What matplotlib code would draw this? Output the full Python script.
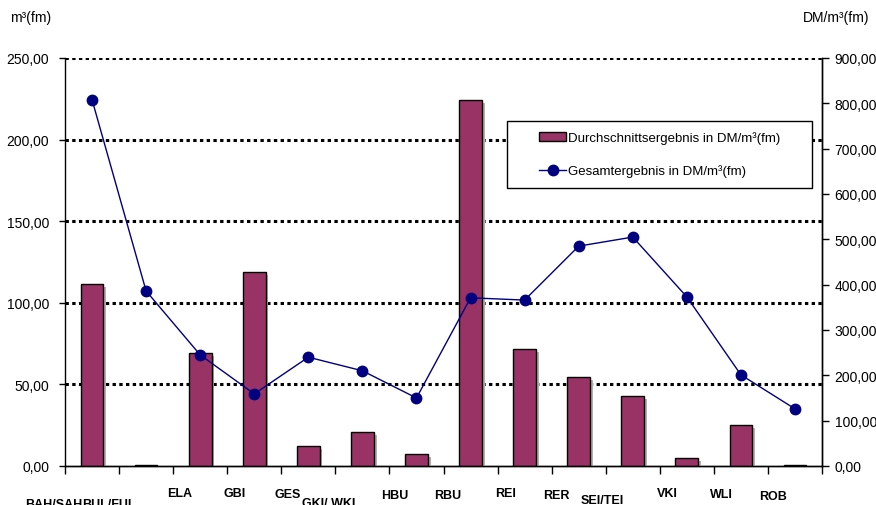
import numpy as np
import matplotlib
matplotlib.use("Agg")
import matplotlib.pyplot as plt
import matplotlib.patheffects as pe
from matplotlib.patches import Rectangle
from matplotlib.legend_handler import HandlerPatch, HandlerLine2D
from matplotlib.ticker import FuncFormatter

plt.rcParams['font.family'] = ['Liberation Sans', 'DejaVu Sans']

cats = ["BAH/SAH", "BUL/FUL", "ELA", "GBI", "GES", "GKI/ WKI", "HBU", "RBU",
        "REI", "RER", "SEI/TEI", "VKI", "WLI", "ROB"]
avg_result = [111.5, 0.5, 69.2, 118.9, 12.3, 20.8, 7.4, 224.3, 71.7, 54.5, 42.9, 4.9, 25.1, 0.5]
total_result = [808, 386, 245, 159, 240, 210, 150, 371, 366, 485, 505, 373, 201, 126]
# staggered category labels: (x shift, drop) in points
label_dx = [-27.4, -26.6, -15.1, -14.4, -15.1, -24.5, -15.8, -16.6, -13.7, -15.8, -21.6, -13.7, -13.7, -15.8]
label_drop = [23, 23, 15, 15, 16, 22.5, 16.5, 16.5, 15, 16.5, 20, 15, 16, 17]

comma = FuncFormatter(lambda v, p: f"{v:,.2f}".replace(",", "X").replace(".", ",").replace("X", "."))

fig = plt.figure(figsize=(8.76, 5.06), dpi=100)
ax = fig.add_axes([0.0742, 0.0771, 0.8642, 0.8063])
ax2 = ax.twinx()

x = np.arange(len(cats))
bar_color = "#993366"
bars = ax.bar(x, avg_result, width=0.42, color=bar_color, edgecolor="black",
              linewidth=1, zorder=3)
for b in bars:
    b.set_path_effects([pe.SimplePatchShadow(offset=(2, -2), shadow_rgbFace="#b0b0b0", alpha=1),
                        pe.Normal()])

ln, = ax2.plot(x, total_result, color="#000080", lw=1, marker="o", markersize=7.5,
               markerfacecolor="#000080", markeredgecolor="#000080")

ax.set_xlim(-0.5, len(cats) - 0.5)
ax.set_ylim(0, 250)
ax2.set_ylim(0, 900)
ax.set_yticks(np.arange(0, 251, 50))
ax2.set_yticks(np.arange(0, 901, 100))
ax.yaxis.set_major_formatter(comma)
ax2.yaxis.set_major_formatter(comma)

for v in range(50, 251, 50):
    ax.axhline(v, color="black", lw=2.2, ls=(0, (1.1, 1.1)), zorder=1)

ax.set_xticks(np.arange(-0.5, len(cats), 1))
ax.set_xticklabels([])
ax.tick_params(axis="x", length=6, width=1, direction="out")
ax.tick_params(axis="y", length=4, width=1, direction="out", labelsize=10, pad=7.5)
ax2.tick_params(axis="y", length=5, width=1, direction="out", labelsize=10, pad=4)

for i, (c, dx, d) in enumerate(zip(cats, label_dx, label_drop)):
    ax.annotate(c, xy=(i, 0), xycoords="data", xytext=(dx, -d),
                textcoords="offset points", ha="center", va="top",
                fontsize=9, fontweight="bold", annotation_clip=False)

for a in (ax, ax2):
    a.spines["top"].set_visible(False)
    for s in ("left", "right", "bottom"):
        a.spines[s].set_color("black")
        a.spines[s].set_linewidth(1)
ax2.spines["left"].set_visible(False)
ax.set_zorder(ax2.get_zorder() - 1)
ax2.patch.set_visible(False)
ax.patch.set_visible(False)

proxy = Rectangle((0, 0), 1, 1, facecolor=bar_color, edgecolor="black", linewidth=1)
leg = ax2.legend([proxy, ln], ["Durchschnittsergebnis in DM/m³(fm)", "Gesamtergebnis in DM/m³(fm)"],
                 handler_map={Rectangle: HandlerPatch(xpad=1.6), type(ln): HandlerLine2D(xpad=1.6)},
                 loc="upper left", bbox_to_anchor=(0.584, 0.846, 0.403, 0), mode="expand",
                 borderaxespad=0, fancybox=False, edgecolor="black", fontsize=9.5,
                 handlelength=3.7, borderpad=0.8, labelspacing=1.53, handletextpad=0.15,
                 framealpha=1)
leg.get_frame().set_linewidth(1)

fig.text(0.011, 0.965, "m³(fm)", fontsize=10, ha="left", va="center")
fig.text(0.992, 0.965, "DM/m³(fm)", fontsize=10, ha="right", va="center")

fig.savefig("out.png", dpi=100)
